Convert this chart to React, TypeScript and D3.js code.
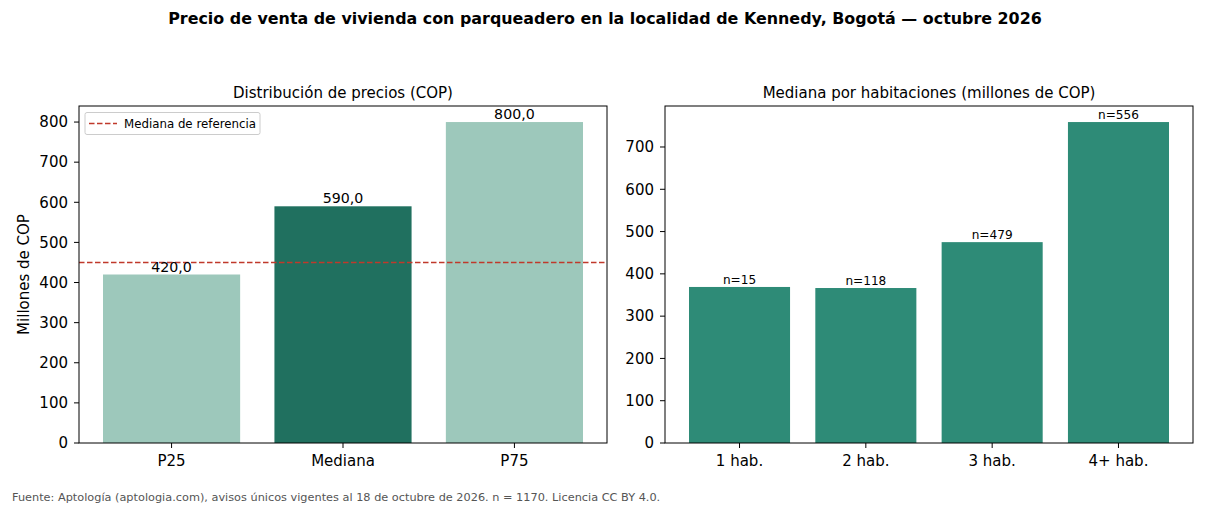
import React from "react";
import * as d3 from "d3";

const TITLE = "Precio de venta de vivienda con parqueadero en la localidad de Kennedy, Bogotá — octubre 2026";
const FOOTER = "Fuente: Aptología (aptologia.com), avisos únicos vigentes al 18 de octubre de 2026. n = 1170. Licencia CC BY 4.0.";

const distCategories = ["P25", "Mediana", "P75"];
const distValues = [420, 590, 800];
const distColors = ["#9dc8bb", "#20705f", "#9dc8bb"];
const referenceMedian = 450;
const leftTicks = [0, 100, 200, 300, 400, 500, 600, 700, 800];

const roomCategories = ["1 hab.", "2 hab.", "3 hab.", "4+ hab."];
const roomValues = [369, 366.5, 475, 759];
const roomCounts = [15, 118, 479, 556];
const rightTicks = [0, 100, 200, 300, 400, 500, 600, 700];

const FONT = "DejaVu Sans, sans-serif";

export default function App() {
  const W = 1210, H = 506;
  const top = 106, bottom = 443;
  const TS = 15;
  const PAD = 11;

  // Left panel
  const lx0 = 79, lx1 = 607;
  const lx = d3.scaleLinear().domain([-0.54, 2.54]).range([lx0, lx1]);
  const ly = d3.scaleLinear().domain([0, 840]).range([bottom, top]);
  const bw = 0.8;

  // Right panel
  const rx0 = 665, rx1 = 1193;
  const rn = roomCategories.length;
  const rx = d3.scaleLinear().domain([-0.4 - 0.05 * (rn - 0.2), rn - 0.6 + 0.05 * (rn - 0.2)]).range([rx0, rx1]);
  const rmax = d3.max(roomValues)! * 1.05;
  const ry = d3.scaleLinear().domain([0, rmax]).range([bottom, top]);

  const fmt = (v: number) => v.toFixed(1).replace(".", ",");

  return (
    <svg width={W} height={H} style={{ display: "block", position: "absolute", left: 0, top: 0 }} fontFamily={FONT}>
      <rect width={W} height={H} fill="#fff" />
      <text x={605} y={23.5} textAnchor="middle" fontSize={15.9} fontWeight="bold">{TITLE}</text>

      {/* Left panel */}
      <text x={(lx0 + lx1) / 2} y={97.5} textAnchor="middle" fontSize={15}>Distribución de precios (COP)</text>
      {distValues.map((v, i) => (
        <g key={i}>
          <rect x={lx(i - bw / 2)} y={ly(v)} width={lx(i + bw / 2) - lx(i - bw / 2)} height={bottom - ly(v)} fill={distColors[i]} />
        </g>
      ))}
      <line x1={lx0} x2={lx1} y1={ly(referenceMedian)} y2={ly(referenceMedian)} stroke="#c0392b" strokeWidth={1.5} strokeDasharray="5.5,2.5" />
      {distValues.map((v, i) => (
        <text key={i} x={lx(i)} y={ly(v) - 3} textAnchor="middle" fontSize={14.2}>{fmt(v)}</text>
      ))}
      <rect x={lx0} y={top} width={lx1 - lx0} height={bottom - top} fill="none" stroke="#000" strokeWidth={1} />
      {leftTicks.map((t) => (
        <g key={t}>
          <line x1={lx0 - 5} x2={lx0} y1={ly(t)} y2={ly(t)} stroke="#000" />
          <text x={lx0 - PAD} y={ly(t)} dy="0.35em" textAnchor="end" fontSize={TS}>{t}</text>
        </g>
      ))}
      {distCategories.map((c, i) => (
        <g key={c}>
          <line x1={lx(i)} x2={lx(i)} y1={bottom} y2={bottom + 5} stroke="#000" />
          <text x={lx(i)} y={bottom + 23} textAnchor="middle" fontSize={TS}>{c}</text>
        </g>
      ))}
      <text transform={`translate(28.5,${(top + bottom) / 2}) rotate(-90)`} textAnchor="middle" fontSize={TS}>Millones de COP</text>

      {/* Legend */}
      <rect x={85} y={112.5} width={175} height={22} rx={2} fill="#fff" fillOpacity={0.8} stroke="#ccc" />
      <line x1={89} x2={117} y1={123.5} y2={123.5} stroke="#c0392b" strokeWidth={1.5} strokeDasharray="5.5,2.5" />
      <text x={124} y={123.5} dy="0.35em" fontSize={11.8}>Mediana de referencia</text>

      {/* Right panel */}
      <text x={(rx0 + rx1) / 2} y={97.5} textAnchor="middle" fontSize={15}>Mediana por habitaciones (millones de COP)</text>
      {roomValues.map((v, i) => (
        <g key={i}>
          <rect x={rx(i - bw / 2)} y={ry(v)} width={rx(i + bw / 2) - rx(i - bw / 2)} height={bottom - ry(v)} fill="#2e8b77" />
          <text x={rx(i)} y={ry(v) - 3} textAnchor="middle" fontSize={12.1}>{`n=${roomCounts[i]}`}</text>
        </g>
      ))}
      <rect x={rx0} y={top} width={rx1 - rx0} height={bottom - top} fill="none" stroke="#000" strokeWidth={1} />
      {rightTicks.map((t) => (
        <g key={t}>
          <line x1={rx0 - 5} x2={rx0} y1={ry(t)} y2={ry(t)} stroke="#000" />
          <text x={rx0 - PAD} y={ry(t)} dy="0.35em" textAnchor="end" fontSize={TS}>{t}</text>
        </g>
      ))}
      {roomCategories.map((c, i) => (
        <g key={c}>
          <line x1={rx(i)} x2={rx(i)} y1={bottom} y2={bottom + 5} stroke="#000" />
          <text x={rx(i)} y={bottom + 23} textAnchor="middle" fontSize={TS}>{c}</text>
        </g>
      ))}

      <text x={12} y={501} fontSize={11.3} fill="#555">{FOOTER}</text>
    </svg>
  );
}
